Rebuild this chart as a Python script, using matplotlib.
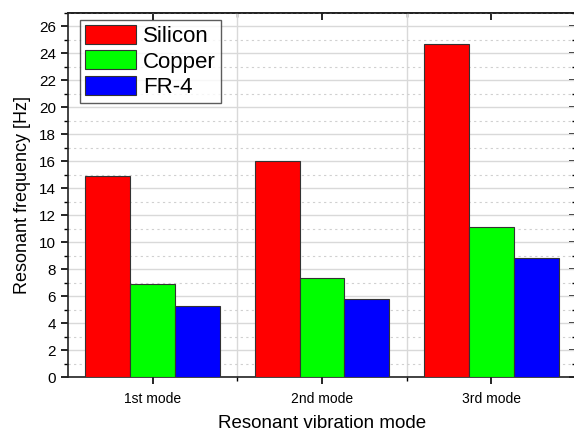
import matplotlib
matplotlib.use('Agg')
import matplotlib.pyplot as plt
import numpy as np
from matplotlib.ticker import MultipleLocator, FixedLocator

# data
modes = ['1st mode', '2nd mode', '3rd mode']
silicon = [14.9, 16.05, 24.7]
copper = [6.9, 7.35, 11.1]
fr4 = [5.3, 5.75, 8.85]

plt.rcParams['font.family'] = ['Liberation Sans', 'DejaVu Sans']

fig = plt.figure(figsize=(5.74, 4.32), dpi=100)
ax = fig.add_axes([0.1185, 0.1273, 0.885, 0.8427])

x = np.arange(1, len(modes) + 1)
w = 0.265
ax.bar(x - w, silicon, w, color='#ff0000', edgecolor='#333333', linewidth=0.8, label='Silicon', zorder=3)
ax.bar(x, copper, w, color='#00ff00', edgecolor='#333333', linewidth=0.8, label='Copper', zorder=3)
ax.bar(x + w, fr4, w, color='#0000ff', edgecolor='#333333', linewidth=0.8, label='FR-4', zorder=3)

ax.set_xlim(0.5, 3.5)
ax.set_ylim(0, 27)
ax.set_xticks(x)
ax.set_xticklabels(modes, fontsize=10)
ax.xaxis.set_minor_locator(FixedLocator([1.5, 2.5]))
ax.yaxis.set_major_locator(MultipleLocator(2))
ax.yaxis.set_minor_locator(MultipleLocator(1))
ax.tick_params(axis='y', which='major', labelsize=11, direction='out', length=5, width=1.2)
ax.tick_params(axis='y', which='minor', direction='out', length=3, width=1)
ax.tick_params(axis='x', which='major', direction='out', length=5, width=1.2, pad=6)
ax.tick_params(axis='x', which='minor', direction='out', length=3, width=1)

# inward ticks on the top and right sides
top = ax.secondary_xaxis('top')
top.set_xticks(x)
top.xaxis.set_minor_locator(FixedLocator([1.5, 2.5]))
top.tick_params(which='major', direction='in', length=5, width=1.2, labeltop=False)
top.tick_params(which='minor', direction='in', length=3, width=1)
top.spines['top'].set_linewidth(1.2)
right = ax.secondary_yaxis('right')
right.yaxis.set_major_locator(MultipleLocator(2))
right.yaxis.set_minor_locator(MultipleLocator(1))
right.tick_params(which='major', direction='in', length=5, width=1.2, labelright=False)
right.tick_params(which='minor', direction='in', length=3, width=1)

ax.grid(axis='y', which='major', color='#d9d9d9', linewidth=1, zorder=0)
ax.grid(axis='y', which='minor', color='#d0d0d0', linestyle=(0, (2, 3)), linewidth=0.8, zorder=0)
ax.grid(axis='x', which='minor', color='#d9d9d9', linewidth=1, zorder=0)

for s in ax.spines.values():
    s.set_linewidth(1.2)
    s.set_color('#222222')

ax.set_xlabel('Resonant vibration mode', fontsize=13.5, labelpad=6)
ax.set_ylabel('Resonant frequency [Hz]', fontsize=13, labelpad=6)

leg = ax.legend(loc='upper left', fontsize=16, frameon=True, fancybox=False,
                edgecolor='#333333', handlelength=2.3, handleheight=0.95,
                borderpad=0.22, labelspacing=0.15, handletextpad=0.3,
                borderaxespad=0, bbox_to_anchor=(0.024, 0.981))
leg.get_frame().set_linewidth(1)

fig.savefig('out.png', dpi=100)
